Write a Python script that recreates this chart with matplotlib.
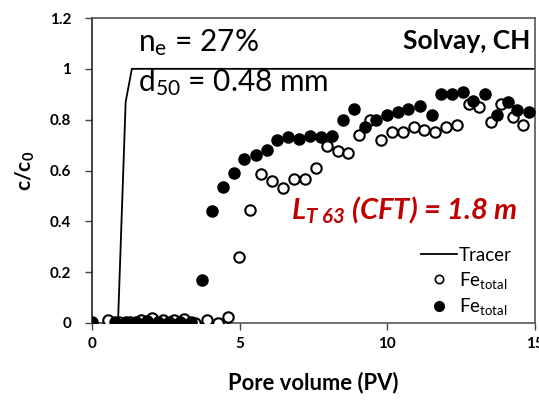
import matplotlib.pyplot as plt
from matplotlib.lines import Line2D

# tracer breakthrough curve
tracer_pv = [0, 0.88, 1.14, 1.35, 15]
tracer_c = [0, 0, 0.87, 1.0, 1.0]

# Fe total, open symbols
open_pv = [0.55, 0.92, 1.29, 1.67, 2.04, 2.4, 2.77, 3.1, 3.5, 3.9, 4.28, 4.6,
           4.98, 5.36, 5.73, 6.1, 6.47, 6.85, 7.22, 7.6, 7.96, 8.33, 8.68, 9.05,
           9.42, 9.8, 10.17, 10.54, 10.9, 11.25, 11.63, 12.0, 12.37, 12.75, 13.1,
           13.5, 13.86, 14.24, 14.6]
open_c = [0.01, 0.005, 0.005, 0.012, 0.02, 0.01, 0.01, 0.017, 0.0, 0.01, 0.0, 0.025,
          0.26, 0.443, 0.585, 0.56, 0.53, 0.565, 0.567, 0.61, 0.695, 0.675, 0.667, 0.74,
          0.797, 0.72, 0.75, 0.753, 0.77, 0.76, 0.75, 0.77, 0.78, 0.86, 0.85,
          0.79, 0.86, 0.81, 0.78]

# Fe total, filled symbols
fill_pv = [0, 0.77, 1.14, 1.5, 1.87, 2.24, 2.6, 2.97, 3.34, 3.73, 4.07, 4.44, 4.81,
           5.15, 5.55, 5.93, 6.27, 6.64, 7.0, 7.39, 7.76, 8.13, 8.5, 8.88, 9.25,
           9.63, 10.0, 10.35, 10.7, 11.1, 11.5, 11.83, 12.2, 12.55, 12.9, 13.3,
           13.7, 14.07, 14.4, 14.78]
fill_c = [0.005, 0.005, 0.005, 0.005, 0.007, 0.005, 0.005, 0.005, 0.005, 0.17, 0.44, 0.535, 0.59,
          0.647, 0.66, 0.68, 0.72, 0.733, 0.725, 0.737, 0.733, 0.735, 0.80, 0.843, 0.77,
          0.80, 0.82, 0.83, 0.843, 0.855, 0.82, 0.90, 0.90, 0.91, 0.875, 0.90,
          0.82, 0.87, 0.84, 0.83]

xticks = [0, 5, 10, 15]
yticks = [0, 0.2, 0.4, 0.6, 0.8, 1, 1.2]
ytick_labels = ['0', '0.2', '0.4', '0.6', '0.8', '1', '1.2']

plt.rcParams['font.family'] = ['Lato', 'DejaVu Sans']
plt.rcParams['mathtext.fontset'] = 'custom'
plt.rcParams['mathtext.it'] = 'Lato:italic:bold'
plt.rcParams['mathtext.rm'] = 'Lato:italic:bold'

fig = plt.figure(figsize=(5.39, 4.0), dpi=100)
ax = fig.add_axes([92/539, 1 - 323/400, (535 - 92)/539, (323 - 18)/400])

ax.plot(tracer_pv, tracer_c, color='black', lw=1.3, zorder=2)
ax.plot(open_pv, open_c, 'o', ms=7.5, mfc='white', mec='black', mew=1.5, zorder=3)
ax.plot(fill_pv, fill_c, 'o', ms=8, mfc='black', mec='black', zorder=4)

ax.set_xlim(0, 15)
ax.set_ylim(0, 1.2)
ax.set_xticks(xticks)
ax.set_yticks(yticks)
ax.set_yticklabels(ytick_labels)
for lab in ax.get_xticklabels() + ax.get_yticklabels():
    lab.set_fontweight('bold')
ax.tick_params(direction='out', length=5, width=1, color='#444444', labelsize=11)
ax.tick_params(axis='y', pad=10)
ax.tick_params(axis='x', pad=5)
for s in ax.spines.values():
    s.set_color('#555555')
    s.set_linewidth(1.2)
ax.spines['left'].set_color('#222222')

ax.set_xlabel('Pore volume (PV)', fontsize=15.8, fontweight='bold', labelpad=15)
ax.set_ylabel('c/c$_\\mathregular{0}$', fontsize=15, fontweight='bold', labelpad=9)

ax.text(1.55, 1.105, 'n$_\\mathregular{e}$ = 27%', fontsize=21.5, va='center')
ax.text(1.55, 0.948, 'd$_\\mathregular{50}$ = 0.48 mm', fontsize=21.5, va='center')
ax.text(14.85, 1.11, 'Solvay, CH', fontsize=19, fontweight='bold', ha='right', va='center')
ax.text(6.75, 0.445, '$L_{T\\ 63}$ (CFT) = 1.8 m', fontsize=21, color='#c00000',
        fontweight='bold', fontstyle='italic', va='center')

handles = [Line2D([], [], color='black', lw=1.3),
           Line2D([], [], ls='none', marker='o', ms=6, mfc='white', mec='black', mew=1.2),
           Line2D([], [], ls='none', marker='o', ms=7, mfc='black', mec='black')]
ax.legend(handles, ['Tracer', 'Fe$_\\mathregular{total}$', 'Fe$_\\mathregular{total}$'],
          loc='upper left', bbox_to_anchor=(0.743, 0.249), borderaxespad=0, borderpad=0,
          frameon=False, fontsize=13.5, handlelength=1.9, handletextpad=0.1, labelspacing=0.3)

fig.savefig('out.png', dpi=100)
